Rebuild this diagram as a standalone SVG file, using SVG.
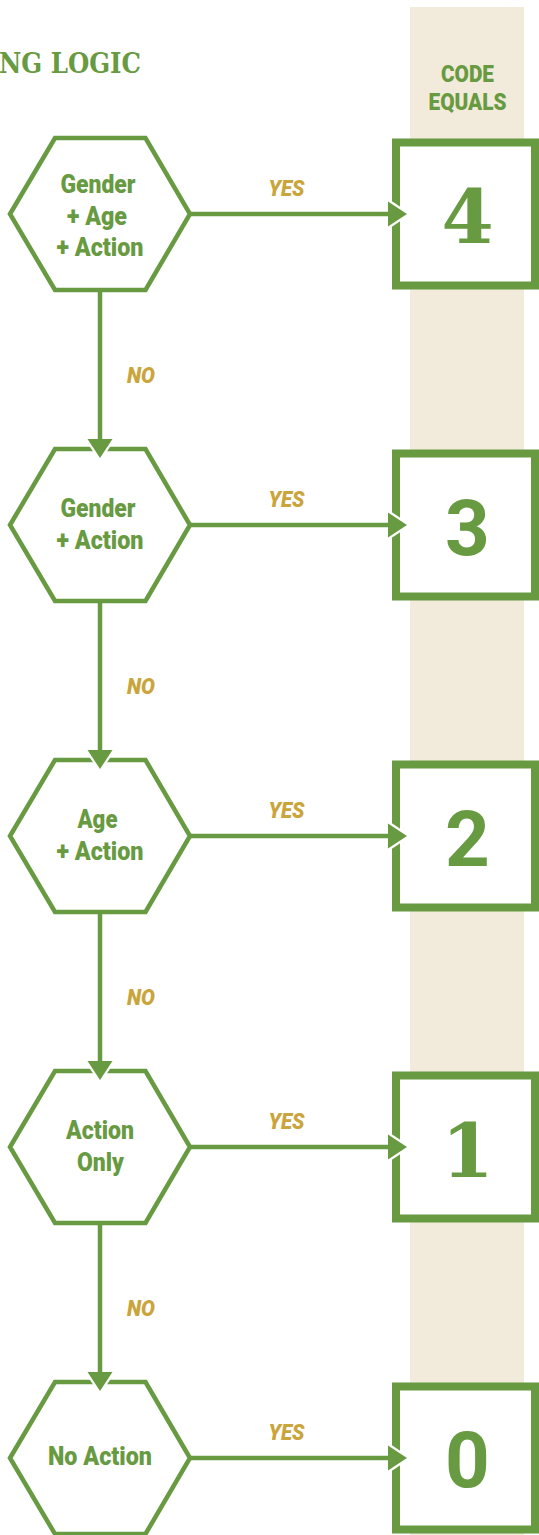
<svg xmlns="http://www.w3.org/2000/svg" width="539" height="1535" viewBox="0 0 539 1535">
<style>
.hex{fill:#fff;stroke:#679a41;stroke-width:4.5;stroke-linejoin:miter}
.box{fill:#fff;stroke:#679a41;stroke-width:8}
.lbl{font-family:Roboto,"Liberation Sans",sans-serif;font-weight:900;font-size:25.5px;fill:#679a41;text-anchor:middle}
.num{font-family:Roboto,"Liberation Sans",Arial,sans-serif;font-weight:700;font-size:78px;fill:#679a41;text-anchor:middle}
.snum{font-family:"DejaVu Serif","Liberation Serif",serif;font-weight:700;font-size:75px;fill:#679a41;text-anchor:middle}
.yes{font-family:Roboto,"Liberation Sans",sans-serif;font-weight:900;font-style:italic;font-size:22px;fill:#c9a53b;text-anchor:middle}
.hdr{font-family:Roboto,"Liberation Sans",sans-serif;font-weight:900;font-size:23.5px;fill:#679a41;text-anchor:middle}
.ttl{font-family:"DejaVu Serif","Liberation Serif",serif;font-weight:700;font-size:28px;fill:#679a41}
.con{fill:none;stroke:#679a41;stroke-width:4.5}
</style>
<defs>
<marker id="ah" markerUnits="userSpaceOnUse" markerWidth="30" markerHeight="30" refX="9" refY="12.5" orient="auto" overflow="visible">
<path d="M0,0 L19,12.5 L0,25" fill="none" stroke="#fff" stroke-width="4.5" stroke-linejoin="miter"/>
<path d="M0,0 L19,12.5 L0,25 Z" fill="#679a41"/>
</marker>
</defs>
<rect id="column" x="410" y="7" width="114" height="1528" fill="#f2ebdb"/>
<text class="ttl" x="-1" y="73" textLength="142" lengthAdjust="spacingAndGlyphs">NG LOGIC</text>
<g id="header">
<text class="hdr" x="467.5" y="82" textLength="53" lengthAdjust="spacingAndGlyphs">CODE</text>
<text class="hdr" x="467.5" y="110" textLength="78" lengthAdjust="spacingAndGlyphs">EQUALS</text>
</g>
<g id="hex1">
<polygon class="hex" points="10,214 55,138 145.5,138 190,214 145.5,290 55,290"/>
<text class="lbl" x="98" y="193" textLength="75" lengthAdjust="spacingAndGlyphs">Gender</text>
<text class="lbl" x="97" y="224.5" textLength="60" lengthAdjust="spacingAndGlyphs">+ Age</text>
<text class="lbl" x="100" y="256" textLength="87" lengthAdjust="spacingAndGlyphs">+ Action</text>
</g>
<g id="hex2">
<polygon class="hex" points="10,525 55,449 145.5,449 190,525 145.5,601 55,601"/>
<text class="lbl" x="98" y="517" textLength="75" lengthAdjust="spacingAndGlyphs">Gender</text>
<text class="lbl" x="100" y="549" textLength="87" lengthAdjust="spacingAndGlyphs">+ Action</text>
</g>
<g id="hex3">
<polygon class="hex" points="10,836 55,760 145.5,760 190,836 145.5,912 55,912"/>
<text class="lbl" x="97.5" y="828" textLength="40" lengthAdjust="spacingAndGlyphs">Age</text>
<text class="lbl" x="100" y="860" textLength="87" lengthAdjust="spacingAndGlyphs">+ Action</text>
</g>
<g id="hex4">
<polygon class="hex" points="10,1147 55,1071 145.5,1071 190,1147 145.5,1223 55,1223"/>
<text class="lbl" x="100" y="1139" textLength="68" lengthAdjust="spacingAndGlyphs">Action</text>
<text class="lbl" x="100.5" y="1171" textLength="47" lengthAdjust="spacingAndGlyphs">Only</text>
</g>
<g id="hex5">
<polygon class="hex" points="10,1458 55,1382 145.5,1382 190,1458 145.5,1534 55,1534"/>
<text class="lbl" x="100" y="1465" textLength="104" lengthAdjust="spacingAndGlyphs">No Action</text>
</g>
<g id="box4">
<rect class="box" x="396" y="142.5" width="139" height="143"/>
<text class="snum" x="467.5" y="243">4</text>
</g>
<g id="box3">
<rect class="box" x="396" y="453.5" width="139" height="143"/>
<text class="num" x="467.5" y="555">3</text>
</g>
<g id="box2">
<rect class="box" x="396" y="764.5" width="139" height="143"/>
<text class="num" x="467.5" y="866">2</text>
</g>
<g id="box1">
<rect class="box" x="396" y="1075.5" width="139" height="143"/>
<text class="snum" x="467.5" y="1176.5">1</text>
</g>
<g id="box0">
<rect class="box" x="396" y="1386.5" width="139" height="143"/>
<text class="num" x="467.5" y="1487">0</text>
</g>
<g id="connectors">
<path class="con" d="M190,214 H397" marker-end="url(#ah)"/>
<path class="con" d="M190,525 H397" marker-end="url(#ah)"/>
<path class="con" d="M190,836 H397" marker-end="url(#ah)"/>
<path class="con" d="M190,1147 H397" marker-end="url(#ah)"/>
<path class="con" d="M190,1458 H397" marker-end="url(#ah)"/>
<path class="con" d="M100,290 V448" marker-end="url(#ah)"/>
<path class="con" d="M100,601 V759" marker-end="url(#ah)"/>
<path class="con" d="M100,912 V1070" marker-end="url(#ah)"/>
<path class="con" d="M100,1223 V1381" marker-end="url(#ah)"/>
<text class="yes" x="286.5" y="196" textLength="36" lengthAdjust="spacingAndGlyphs">YES</text>
<text class="yes" x="286.5" y="507" textLength="36" lengthAdjust="spacingAndGlyphs">YES</text>
<text class="yes" x="286.5" y="818" textLength="36" lengthAdjust="spacingAndGlyphs">YES</text>
<text class="yes" x="286.5" y="1129" textLength="36" lengthAdjust="spacingAndGlyphs">YES</text>
<text class="yes" x="286.5" y="1440" textLength="36" lengthAdjust="spacingAndGlyphs">YES</text>
<text class="yes" x="141" y="383" textLength="28" lengthAdjust="spacingAndGlyphs">NO</text>
<text class="yes" x="141" y="694" textLength="28" lengthAdjust="spacingAndGlyphs">NO</text>
<text class="yes" x="141" y="1005" textLength="28" lengthAdjust="spacingAndGlyphs">NO</text>
<text class="yes" x="141" y="1316" textLength="28" lengthAdjust="spacingAndGlyphs">NO</text>
</g>
</svg>
